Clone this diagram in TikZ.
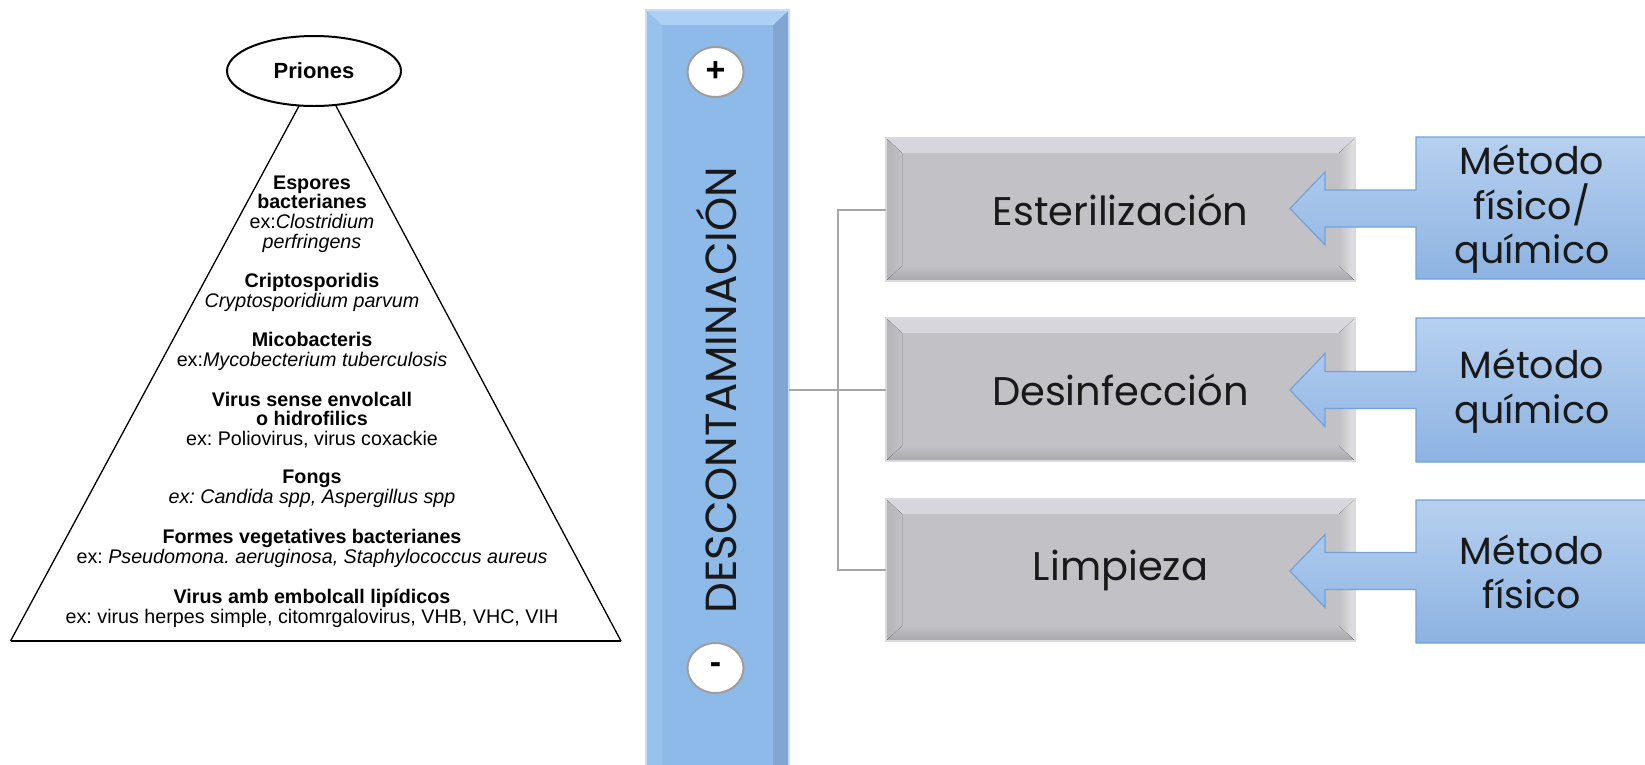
\documentclass[tikz,border=0pt]{standalone}
\usepackage{fontspec}
\setmainfont{Liberation Sans}
\newfontfamily\gothic{Poppins}
\usetikzlibrary{shapes.geometric,calc}
\definecolor{barblue}{HTML}{8EBAE9}
\definecolor{bartop}{HTML}{ADD0F5}
\definecolor{barleft}{HTML}{98C2EE}
\definecolor{barright}{HTML}{82A6D1}
\definecolor{gmid}{HTML}{C1C1C6}
\definecolor{gtop}{HTML}{D6D6DC}
\definecolor{gleft}{HTML}{B3B3B8}
\definecolor{gright}{HTML}{E3E3E7}
\definecolor{gbot}{HTML}{A6A6AB}
\definecolor{gborder}{HTML}{DADADE}
\definecolor{cotop}{HTML}{B6D0EF}
\definecolor{cobot}{HTML}{8DB3E2}
\definecolor{costroke}{HTML}{6FA3DB}
\definecolor{connc}{HTML}{A6A6A6}
\newcommand\mygraybevel[2]{%
  \fill[gmid] (886,#1) rectangle (1355,#2);
  \fill[gtop] (886,#1) -- (1355,#1) -- (1339,#1+15) -- (902,#1+15) -- cycle;
  \fill[left color=gleft, right color=gmid] (886,#1) -- (902,#1+15) -- (902,#2-15) -- (886,#2) -- cycle;
  \fill[left color=gmid, right color=gright] (1355,#1) -- (1339,#1+15) -- (1339,#2-15) -- (1355,#2) -- cycle;
  \fill[top color=gmid, bottom color=gbot] (886,#2) -- (902,#2-15) -- (1339,#2-15) -- (1355,#2) -- cycle;
  \draw[gborder,line width=1.5pt] (886,#1) rectangle (1355,#2);}
\newcommand\mycallout[3]{% top, center, bottom
  \draw[callout] (1660,#1) -- (1416,#1) -- (1416,#2-18.5) -- (1325,#2-18.5) -- (1325,#2-36.5)
    -- (1290,#2) -- (1325,#2+36.5) -- (1325,#2+18.5) -- (1416,#2+18.5) -- (1416,#3) -- (1660,#3);}
\begin{document}
\begin{tikzpicture}[x=1pt,y=-1pt,
  pyr/.style={font=\frenchspacing\fontsize{19.7}{19.8}\selectfont, align=center, inner sep=0pt, text=black},
  boxtext/.style={font=\gothic\fontsize{40}{44}\selectfont, inner sep=0pt, minimum width=469pt, minimum height=143pt, text=black!90},
  cotext/.style={font=\gothic\fontsize{38}{44.5}\selectfont, align=center, inner sep=0pt, text=black!90},
  callout/.style={top color=cotop, bottom color=cobot, draw=costroke, line width=1.2pt},
  conn/.style={draw=connc, line width=2pt},
  pm/.style={ellipse, draw=black!38, fill=white, line width=2pt, minimum width=56pt, minimum height=50pt, inner sep=0pt, font=\bfseries\fontsize{34}{34}\selectfont}]
\useasboundingbox (0,0) rectangle (1645,764);
\fill[white] (0,0) rectangle (1645,764);

% ---------- pyramid ----------
\node[draw, ellipse, line width=2pt, minimum width=174pt, minimum height=70pt, inner sep=0pt,
  font=\bfseries\fontsize{22}{22}\selectfont] (pri) at (314,71) {Priones};
\coordinate (apl) at (299,106);
\coordinate (apr) at (336,106);
\coordinate (bl) at (10.5,641);
\coordinate (br) at (621,641);
\draw[line width=1.3pt] (apl) -- (bl);
\draw[line width=1.3pt] (apr) -- (br);
\draw[line width=2pt] (bl) -- (br);

\node[pyr] (t1) at (312,214) {\textbf{Espores}\\\textbf{bacterianes}\\ex:\textit{Clostridium}\\\textit{perfringens}};
\node[pyr] (t2) at (312,292) {\textbf{Criptosporidis}\\\textit{Cryptosporidium parvum}};
\node[pyr] (t3) at (312,351) {\textbf{Micobacteris}\\ex:\textit{Mycobecterium tuberculosis}};
\node[pyr] (t4) at (312,420) {\textbf{Virus sense envolcall}\\\textbf{o hidrofilics}\\ex: Poliovirus, virus coxackie};
\node[pyr] (t5) at (312,489) {\textbf{Fongs}\\\textit{ex: Candida spp, Aspergillus spp}};
\node[pyr] (t6) at (312,548) {\textbf{Formes vegetatives bacterianes}\\ex: \textit{Pseudomona. aeruginosa, Staphylococcus aureus}};
\node[pyr] (t7) at (312,608) {\textbf{Virus amb embolcall lipídicos}\\ex: virus herpes simple, citomrgalovirus, VHB, VHC, VIH};

% ---------- blue bar ----------
\fill[barblue] (646,10) rectangle (789,775);
\fill[barleft] (646,10) -- (662,25) -- (662,775) -- (646,775) -- cycle;
\fill[barright] (789,10) -- (773,25) -- (773,775) -- (789,775) -- cycle;
\fill[bartop] (646,10) -- (789,10) -- (773,25) -- (662,25) -- cycle;
\draw[bartop!70!white, line width=1.2pt] (646,775) -- (646,10) -- (789,10) -- (789,775);
\node[inner sep=0pt, minimum width=143pt, minimum height=759pt] (bar) at (717.5,389.5) {};
\node[rotate=90, inner sep=0pt, font=\gothic\fontsize{43.5}{43.5}\selectfont, text=black!90] (desc) at (716.5,390) {DESCONTAMINACIÓN};
\node[pm] (plus) at (715.5,72) {+};
\node[pm] (minus) at (715.5,668) {-};

% ---------- gray boxes ----------
\mygraybevel{138}{281}
\mygraybevel{318}{461}
\mygraybevel{499}{641}
\node[boxtext] (b1) at (1120.5,209.5) {Esterilización};
\node[boxtext] (b2) at (1120.5,389.5) {Desinfección};
\node[boxtext] (b3) at (1120.5,570) {Limpieza};

% ---------- connectors ----------
\coordinate (jn) at (838,389.5);
\draw[conn] (bar.east) -- (b2.west);
\draw[conn] (b1.west) -- (b1.west -| jn) -- (b3.west -| jn) -- (b3.west);

% ---------- callouts ----------
\mycallout{137}{208.5}{279}
\mycallout{318}{390}{462}
\mycallout{500}{571}{643}
\node[cotext] (m1) at (1532,209.5) {Método\\físico/\\químico};
\node[cotext] (m2) at (1532,391) {Método\\químico};
\node[cotext] (m3) at (1532,572) {Método\\físico};
\end{tikzpicture}
\end{document}
